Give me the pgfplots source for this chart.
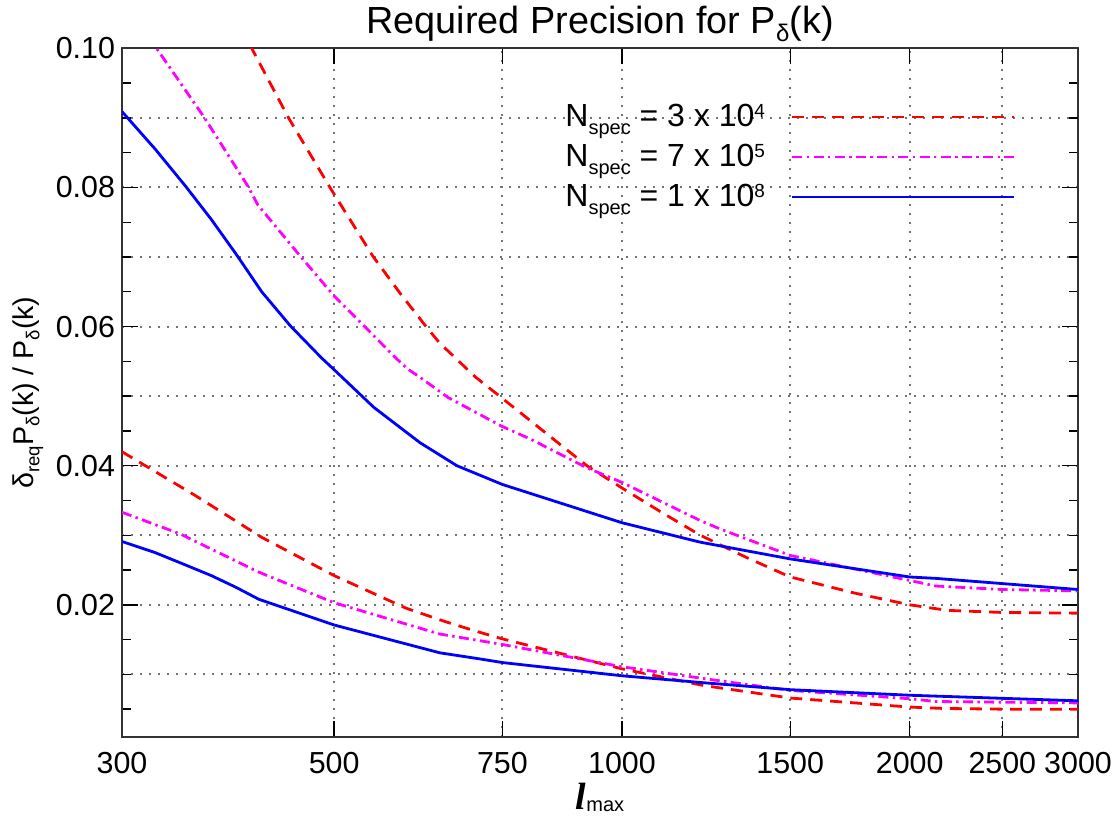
\documentclass[border=0pt]{standalone}
\usepackage{fontspec}
\setmainfont{Liberation Sans}
\newfontfamily\timesf{Liberation Serif}
\usepackage{pgfplots}
\usepackage{pgfplotstable}
\pgfplotsset{compat=1.18}
\definecolor{mag}{RGB}{255,0,255}
\definecolor{rd}{RGB}{255,0,0}
\definecolor{bl}{RGB}{0,0,255}

\newcommand{\lsub}[3]{\raisebox{#2}{\fontsize{#1}{#1}\selectfont #3}}

\pgfplotstableread{
x y
400 0.1030
410 0.1000
448 0.0900
495 0.0800
549 0.0701
586 0.0648
624 0.0600
645 0.0576
666 0.0558
702 0.0528
748 0.0498
850 0.0437
919 0.0400
1000 0.0368
1100 0.0333
1208 0.0300
1350 0.0268
1500 0.0240
1750 0.0217
2000 0.0200
2190 0.0192
2500 0.0189
3000 0.0188
}\redA

\pgfplotstableread{
x y
320 0.1016
326 0.1000
366 0.0900
407 0.0800
416 0.0775
461 0.0701
500 0.0644
582 0.0553
597 0.0539
615 0.0527
658 0.0498
748 0.0457
803 0.0438
919 0.0397
1000 0.0376
1208 0.0321
1267 0.0309
1500 0.0271
2000 0.0235
2130 0.0227
2500 0.0222
3000 0.0220
}\magA

\pgfplotstableread{
x y
300 0.0909
325 0.0855
350 0.0801
372 0.0754
395 0.0704
420 0.0650
450 0.0601
485 0.0555
500 0.0538
550 0.0484
615 0.0433
672 0.0400
750 0.0373
1000 0.0318
1208 0.0290
1500 0.0266
2000 0.0240
2130 0.0238
3000 0.0222
}\bluA

\pgfplotstableread{
x y
300 0.0420
358 0.0357
420 0.0297
500 0.0242
595 0.0195
653 0.0176
704 0.0162
750 0.0151
1000 0.0108
1217 0.0084
1500 0.0066
2000 0.0053
2170 0.0051
2500 0.0050
3000 0.0050
}\redB

\pgfplotstableread{
x y
300 0.0333
345 0.0302
417 0.0247
500 0.0203
645 0.0158
750 0.0143
1000 0.0111
1217 0.0094
1500 0.0077
2000 0.0065
2130 0.0061
2500 0.0060
3000 0.0059
}\magB

\pgfplotstableread{
x y
300 0.0291
325 0.0275
350 0.0257
372 0.0242
395 0.0225
417 0.0208
500 0.0171
645 0.0131
712 0.0122
750 0.0117
1000 0.0098
1217 0.0088
1500 0.0078
2000 0.0070
3000 0.0062
}\bluB

\begin{document}
\begin{tikzpicture}
\begin{axis}[
  scale only axis,
  width=478pt, height=344.35pt,
  xmode=log,
  xmin=300, xmax=3000, ymin=0.001, ymax=0.1,
  xtick={300,500,750,1000,1500,2000,2500,3000},
  xticklabels={300,500,750,1000,1500,2000,2500,3000},
  minor xtick={},
  ytick={0.02,0.04,0.06,0.08,0.1},
  yticklabels={0.02,0.04,0.06,0.08,0.10},
  minor ytick={0.005,0.01,0.015,0.025,0.03,0.035,0.045,0.05,0.055,0.065,0.07,0.075,0.085,0.09,0.095},
  extra y ticks={0.01,0.03,0.05,0.07,0.09},
  extra y tick labels={},
  extra y tick style={grid=major, major tick length=4.5pt},
  xmajorgrids, ymajorgrids,
  grid style={black!55, line width=1pt, dash pattern=on 1pt off 3.5pt},
  major tick length=8pt, minor tick length=4.5pt,
  tick style={black, line width=0.7pt},
  axis line style={black!80, line width=0.8pt},
  tick align=inside,
  tick label style={font=\fontsize{15.2}{15.2}\selectfont},
  xticklabel style={yshift=-4.0pt},
  title={Required Precision for P\lsub{12pt}{-4.3pt}{δ}(k)},
  title style={font=\fontsize{18.9}{18.9}\selectfont, at={(axis description cs:0.5,1.0218)}, anchor=base, yshift=-6pt},
  xlabel={{\timesf\bfseries\itshape l}\lsub{10pt}{-1pt}{max}},
  xlabel style={font=\fontsize{19}{19}\selectfont, at={(axis description cs:0.5,-0.106)}, anchor=base, inner sep=0pt},
  ylabel={δ\lsub{9.3pt}{-3.2pt}{req}P\lsub{9.3pt}{-3.2pt}{δ}(k) / P\lsub{9.3pt}{-3.2pt}{δ}(k)},
  ylabel style={font=\fontsize{14.3}{14.3}\selectfont, at={(axis description cs:-0.0931,0.5)}, anchor=base},
  legend style={draw=none, fill=none, at={(axis description cs:0.4592,0.925)}, anchor=north west,
    font=\fontsize{16}{16}\selectfont, row sep=3.3pt, column sep=11pt, inner sep=0pt},
  legend cell align=left,
  legend plot pos=right,
  legend image code/.code={\draw[#1] (0pt,0pt) -- (111pt,0pt);},
]
\addplot[rd, line width=1.4pt, dash pattern=on 6pt off 4pt] table[x=x,y=y] {\redA};
\addlegendentry{N\lsub{10pt}{-4pt}{spec} = 3 x 10\lsub{9.5pt}{4.5pt}{4}}
\addplot[mag, line width=1.4pt, dash pattern=on 5pt off 2.2pt on 1.2pt off 2.2pt] table[x=x,y=y] {\magA};
\addlegendentry{N\lsub{10pt}{-4pt}{spec} = 7 x 10\lsub{9.5pt}{4.5pt}{5}}
\addplot[bl, line width=1.4pt] table[x=x,y=y] {\bluA};
\addlegendentry{N\lsub{10pt}{-4pt}{spec} = 1 x 10\lsub{9.5pt}{4.5pt}{8}}
\addplot[rd, line width=1.4pt, dash pattern=on 6pt off 4pt, forget plot] table[x=x,y=y] {\redB};
\addplot[mag, line width=1.4pt, dash pattern=on 5pt off 2.2pt on 1.2pt off 2.2pt, forget plot] table[x=x,y=y] {\magB};
\addplot[bl, line width=1.4pt, forget plot] table[x=x,y=y] {\bluB};
\coordinate (bl) at (rel axis cs:0,0);
\coordinate (tr) at (rel axis cs:1,1);
\end{axis}
\pgfresetboundingbox
\path ([shift={(-61pt,-39.5pt)}]bl) rectangle ([shift={(21pt,24.15pt)}]tr);
\end{tikzpicture}
\end{document}
